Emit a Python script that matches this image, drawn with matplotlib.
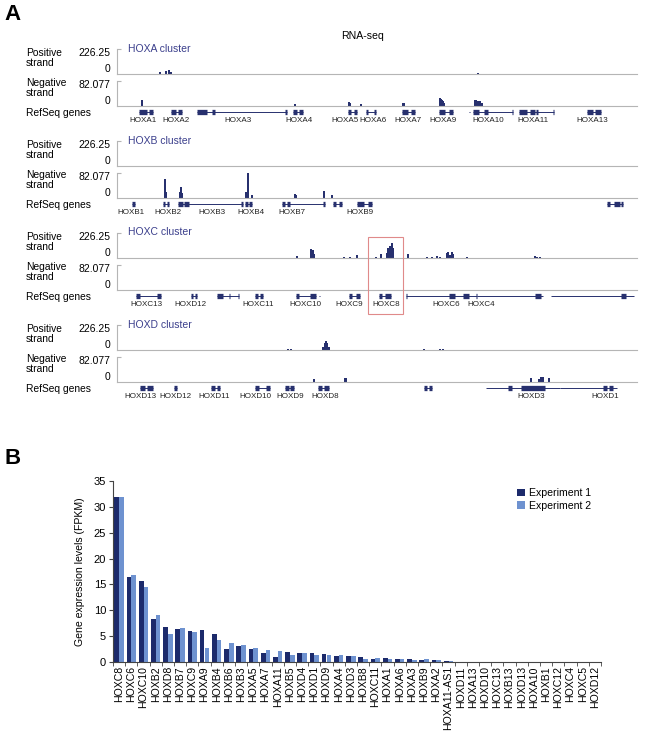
import matplotlib
matplotlib.use("Agg")
import matplotlib.pyplot as plt
import matplotlib.transforms as mtransforms
from matplotlib.patches import Rectangle
import numpy as np

plt.rcParams["font.family"] = ["Liberation Sans", "DejaVu Sans"]

# ---- panel A: coverage peaks (position in kb from window start, signal) ----
POS_MAX = 226.25
NEG_MAX = 82.077

HOXA_POS_X = [43, 49, 52, 54, 361]
HOXA_POS_Y = [18, 27, 36, 18, 9]
HOXA_NEG_X = [25, 178, 232, 233, 244, 286, 287, 323, 324, 325, 326, 327, 358, 359, 361, 363, 365]
HOXA_NEG_Y = [20, 6.6, 13, 10, 6.6, 10, 10, 26, 23, 20, 16, 10, 20, 20, 16, 16, 10]

HOXB_POS_X = []
HOXB_POS_Y = []
HOXB_NEG_X = [48, 49, 63, 64, 65, 129, 131, 135, 178, 179, 207, 215]
HOXB_NEG_Y = [61, 20, 20, 36, 16, 20, 82, 10, 13, 10, 23, 10]

HOXC_POS_X = [180, 194, 195, 196, 197, 227, 233, 240, 259, 264, 270, 271, 272, 273, 274, 275, 276,
              291, 310, 315, 320, 323, 330, 331, 333, 335, 336, 350, 418, 420, 423]
HOXC_POS_Y = [18, 81, 63, 72, 36, 9, 9, 27, 9, 36, 45, 90, 72, 109, 81, 136, 90,
              36, 9, 9, 18, 9, 45, 54, 27, 54, 36, 9, 18, 9, 9]
HOXC_NEG_X = []
HOXC_NEG_Y = []

HOXD_POS_X = [171, 174, 206, 208, 209, 210, 212, 307, 323, 326]
HOXD_POS_Y = [9, 9, 27, 63, 86, 63, 27, 9, 9, 9]
HOXD_NEG_X = [197, 228, 229, 414, 422, 424, 426, 432]
HOXD_NEG_Y = [10, 13, 13, 13, 10, 16, 16, 13]

# ---- panel A: RefSeq gene models (start, end) and exon blocks ----
HOXA_GENES = [(22, 36), (54, 65), (80, 170), (176, 186), (231, 240), (249, 259), (285, 298),
              (322, 336), (351.5, 352.5), (356, 396), (402, 437), (470, 484)]
HOXA_EXONS = [(22, 30), (32, 36), (54, 59), (61, 65), (80, 90), (95, 98), (168, 170), (176, 180),
              (182, 186), (231, 234), (237, 240), (249, 251), (257, 259), (285, 291), (294, 298),
              (322, 328), (332, 336), (356, 362), (367, 371), (395, 396), (402, 410), (413, 418),
              (419, 421), (436, 437), (470, 476), (478, 484)]
HOXA_LABELS = ["HOXA1", "HOXA2", "HOXA3", "HOXA4", "HOXA5", "HOXA6", "HOXA7", "HOXA9",
               "HOXA10", "HOXA11", "HOXA13"]
HOXA_LABEL_X = [25.5, 59, 121, 182, 228, 256, 291, 326, 371, 416, 475]

HOXB_GENES = [(15, 18), (46, 52), (61, 126), (128, 135), (138.6, 139.4), (165, 208), (216, 225),
              (240, 255), (268.6, 269.4), (490, 506)]
HOXB_EXONS = [(15, 18), (46, 48), (50, 52), (61, 66), (67, 72), (124, 126), (128, 131), (132, 135),
              (165, 168), (170, 173), (206, 208), (216, 219), (222, 225), (240, 247), (251, 255),
              (490, 493), (497, 503), (504, 506)]
HOXB_LABELS = ["HOXB1", "HOXB2", "HOXB3", "HOXB4", "HOXB7", "HOXB9"]
HOXB_LABEL_X = [14, 50.5, 95, 134, 175, 243]

HOXC_GENES = [(19, 44), (74, 80), (100, 122), (138, 146), (179, 199), (202, 203), (232, 243),
              (262, 274), (289, 360), (360, 426), (434, 517)]
HOXC_EXONS = [(19, 23), (40, 44), (74, 76), (78, 80), (100, 106), (112, 113), (121, 122),
              (138, 141), (143, 146), (179, 182), (193, 199), (232, 235), (239, 243), (262, 265),
              (268, 274), (289, 290), (332, 338), (346, 352), (359, 360), (418, 424), (504, 509)]
HOXC_LABELS = ["HOXC13", "HOXD12", "HOXC11", "HOXC10", "HOXC9", "HOXC8", "HOXC6", "HOXC4"]
HOXC_LABEL_X = [29, 73.5, 141, 188, 232, 269, 329, 364.5]

HOXD_GENES = [(23, 36), (57, 60), (94, 103), (138, 153), (168, 177), (201, 212), (301.6, 302.4),
              (307, 315), (369, 443), (443, 500)]
HOXD_EXONS = [(23, 28), (30, 36), (57, 60), (94, 98), (100, 103), (138, 142), (149, 153),
              (168, 172), (173, 177), (201, 205), (207, 212), (307, 310), (312, 315), (391, 395),
              (404, 428), (486, 490), (492, 496)]
HOXD_LABELS = ["HOXD13", "HOXD12", "HOXD11", "HOXD10", "HOXD9", "HOXD8", "HOXD3", "HOXD1"]
HOXD_LABEL_X = [23, 58, 97, 138, 173, 208, 414, 488]

CLUSTER_NAMES = ["HOXA cluster", "HOXB cluster", "HOXC cluster", "HOXD cluster"]
HOXC8_BOX = (251, 286)

# ---- panel B: expression ----
GENES = ["HOXC8", "HOXC6", "HOXC10", "HOXB2", "HOXD8", "HOXB7", "HOXC9", "HOXA9", "HOXB4",
         "HOXB6", "HOXB3", "HOXA5", "HOXA7", "HOXA11", "HOXB5", "HOXD4", "HOXD1", "HOXD9",
         "HOXA4", "HOXD3", "HOXB8", "HOXC11", "HOXA1", "HOXA6", "HOXA3", "HOXB9", "HOXA2",
         "HOXA11-AS1", "HOXD11", "HOXA13", "HOXD10", "HOXC13", "HOXB13", "HOXD13", "HOXA10",
         "HOXB1", "HOXC12", "HOXC4", "HOXC5", "HOXD12"]
EXP1 = [32.0, 16.5, 15.6, 8.4, 6.7, 6.3, 6.0, 6.1, 5.5, 2.6, 3.1, 2.45, 1.8, 1.05, 1.9, 1.75,
        1.7, 1.55, 1.16, 1.16, 1.03, 0.52, 0.71, 0.52, 0.58, 0.32, 0.3, 0.2, 0.05, 0.01,
        0.01, 0.01, 0, 0, 0, 0, 0, 0, 0, 0]
EXP2 = [32.0, 16.9, 14.5, 9.0, 5.5, 6.6, 5.75, 2.8, 4.2, 3.7, 3.35, 2.8, 2.35, 2.05, 1.45, 1.7,
        1.3, 1.45, 1.42, 1.1, 0.65, 0.77, 0.52, 0.65, 0.32, 0.52, 0.3, 0.2, 0.03, 0.01,
        0.01, 0, 0, 0, 0, 0, 0, 0, 0, 0]

W, H = 646, 734
TRACK = "#27306E"
TITLE = "#3B3F8C"
GRAY = "#B5B5B5"
DARK = "#1C2A6B"
LIGHT = "#6E92D0"


def rect(x0, y0, x1, y1):
    return [x0 / W, 1 - y1 / H, (x1 - x0) / W, (y1 - y0) / H]


def ftext(fig, x, y, s, **kw):
    fig.text(x / W, 1 - y / H, s, **kw)


def draw_track(ax, xs, ys, ymax):
    ax.bar(xs, ys, width=1.1, color=TRACK, linewidth=0)
    ax.set_xlim(0, 520)
    ax.set_ylim(0, ymax)
    for side in ["top", "right"]:
        ax.spines[side].set_visible(False)
    for side in ["left", "bottom"]:
        ax.spines[side].set_color(GRAY)
        ax.spines[side].set_linewidth(0.8)
    ax.set_xticks([])
    ax.set_yticks([ymax])
    ax.tick_params(axis="y", direction="in", length=3, color=GRAY, width=0.8, labelleft=False)
    ax.patch.set_alpha(0)


def draw_genes(ax, genes, exons, labels, label_x):
    ax.set_xlim(0, 520)
    ax.set_ylim(20, 0)
    ax.axis("off")
    for s, e in genes:
        ax.hlines(4.7, s, e, color=TRACK, lw=0.7)
    for s, e in exons:
        ax.hlines(4.7, s, e, color=TRACK, lw=3.8, capstyle="butt")
    for name, x in zip(labels, label_x):
        ax.text(x, 13.3, name, ha="center", va="center", fontsize=5.8, color="#222222")


fig = plt.figure(figsize=(W / 100, H / 100), dpi=100)

ftext(fig, 4, 15, "A", fontsize=16, fontweight="bold", va="center", ha="left")
ftext(fig, 362, 36, "RNA-seq", fontsize=7.6, ha="center", va="center")

clusters = [
    (HOXA_POS_X, HOXA_POS_Y, HOXA_NEG_X, HOXA_NEG_Y, HOXA_GENES, HOXA_EXONS, HOXA_LABELS, HOXA_LABEL_X),
    (HOXB_POS_X, HOXB_POS_Y, HOXB_NEG_X, HOXB_NEG_Y, HOXB_GENES, HOXB_EXONS, HOXB_LABELS, HOXB_LABEL_X),
    (HOXC_POS_X, HOXC_POS_Y, HOXC_NEG_X, HOXC_NEG_Y, HOXC_GENES, HOXC_EXONS, HOXC_LABELS, HOXC_LABEL_X),
    (HOXD_POS_X, HOXD_POS_Y, HOXD_NEG_X, HOXD_NEG_Y, HOXD_GENES, HOXD_EXONS, HOXD_LABELS, HOXD_LABEL_X),
]

for i, (px, py, nx, ny, genes, exons, labels, lx) in enumerate(clusters):
    dy = 92 * i
    ax_pos = fig.add_axes(rect(117, 49 + dy, 637, 74.3 + dy))
    draw_track(ax_pos, px, py, POS_MAX)
    ax_neg = fig.add_axes(rect(117, 80.7 + dy, 637, 106 + dy))
    draw_track(ax_neg, nx, ny, NEG_MAX)
    ax_gene = fig.add_axes(rect(117, 107 + dy, 637, 127 + dy))
    draw_genes(ax_gene, genes, exons, labels, lx)

    ftext(fig, 128, 48.5 + dy, CLUSTER_NAMES[i], fontsize=7.5, color=TITLE, va="center")
    ftext(fig, 26, 58 + dy, "Positive\nstrand", fontsize=7.4, va="center", linespacing=0.95)
    ftext(fig, 110, 53 + dy, "226.25", fontsize=7.5, ha="right", va="center")
    ftext(fig, 110, 69 + dy, "0", fontsize=7.5, ha="right", va="center")
    ftext(fig, 26, 88 + dy, "Negative\nstrand", fontsize=7.4, va="center", linespacing=0.95)
    ftext(fig, 110, 85 + dy, "82.077", fontsize=7.5, ha="right", va="center")
    ftext(fig, 110, 101 + dy, "0", fontsize=7.5, ha="right", va="center")
    ftext(fig, 26, 113.5 + dy, "RefSeq genes", fontsize=7.4, va="center")

    if i == 2:
        trans = mtransforms.blended_transform_factory(ax_pos.transData, fig.transFigure)
        y0, y1 = 1 - 314 / H, 1 - 237 / H
        box = Rectangle((HOXC8_BOX[0], y0), HOXC8_BOX[1] - HOXC8_BOX[0], y1 - y0,
                        transform=trans, fill=False, edgecolor="#E08A8A", lw=0.8)
        fig.patches.append(box)

# ---- panel B ----
ftext(fig, 4, 458, "B", fontsize=16, fontweight="bold", va="center", ha="left")
axb = fig.add_axes(rect(113, 481, 601, 662))
x = np.arange(len(GENES))
axb.bar(x - 0.19, EXP1, width=0.38, color=DARK, label="Experiment 1")
axb.bar(x + 0.19, EXP2, width=0.38, color=LIGHT, label="Experiment 2")
axb.set_xlim(-0.5, len(GENES) - 0.5)
axb.set_ylim(0, 35)
axb.set_yticks(range(0, 36, 5))
axb.set_xticks(x)
axb.set_xticklabels(GENES, rotation=90, fontsize=7.6)
axb.set_xticks(np.arange(len(GENES) + 1) - 0.5, minor=True)
axb.tick_params(axis="x", which="major", length=0, pad=3)
axb.tick_params(axis="x", which="minor", length=3, direction="out", color="#444444")
axb.tick_params(axis="y", length=3, direction="out", labelsize=8, color="#444444", pad=2)
for side in ["top", "right"]:
    axb.spines[side].set_visible(False)
for side in ["left", "bottom"]:
    axb.spines[side].set_color("#444444")
    axb.spines[side].set_linewidth(0.8)
axb.set_ylabel("Gene expression levels (FPKM)", fontsize=7.6, labelpad=6)
axb.legend(loc="upper left", bbox_to_anchor=(513 / W, 1 - 484 / H), bbox_transform=fig.transFigure,
           frameon=False, fontsize=7.6, handlelength=0.7, handleheight=0.7, handletextpad=0.4,
           labelspacing=0.25, borderaxespad=0)

fig.savefig("out.png", dpi=100)
